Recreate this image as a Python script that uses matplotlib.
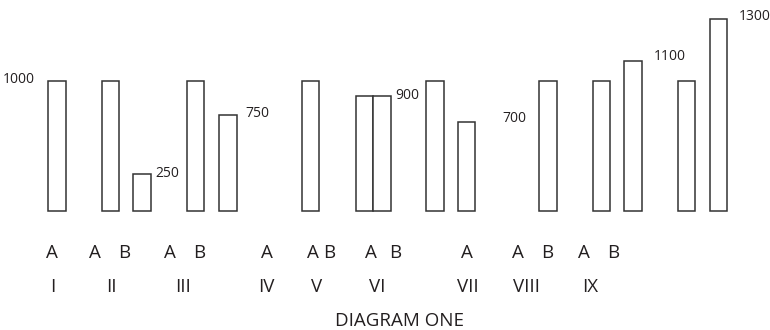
import matplotlib
matplotlib.use("Agg")
import matplotlib.pyplot as plt
from matplotlib import font_manager

# ---------------- data ----------------
groups = ["I", "II", "III", "IV", "V", "VI", "VII", "VIII", "IX"]
bar_letters = ["A", "A", "B", "A", "B", "A", "A", "B", "A", "B", "A", "A", "B", "A", "B"]
# bar heights as drawn in the diagram (schematic scale)
bar_heights = [1000, 1000, 282, 1000, 737, 1000, 885, 885, 1000, 685, 1000, 1000, 1151, 1000, 1476]
# value annotations: (bar index, text)
annot_bars = [0, 2, 4, 7, 9, 12, 14]
annot_text = ["1000", "250", "750", "900", "700", "1100", "1300"]
title = "DIAGRAM ONE"

# ---------------- layout ----------------
W, H = 770, 330
bar_x = [57, 110.3, 142, 195.7, 228, 310.2, 364.5, 382, 435, 466.7, 548, 601.3, 633, 686.7, 718.3]
bar_w = 17.4
letter_x = [52.3, 95, 124, 170, 199, 266.7, 312.5, 328.7, 370.7, 395, 466.7, 518.3, 546.7, 584, 612.7]
group_x = [52.3, 111.7, 183.3, 266.7, 316.7, 376.7, 468.3, 526, 590]
# annotation offsets in pixels (dx, dy) and alignment
annot_off = [(-13.3, -2.6, "right"), (4.3, -3, "left"), (8.3, -2.3, "left"),
             (5, -3.3, "left"), (26.7, 0, "left"), (11.6, 1, "left"), (11.5, -1, "left")]

names = {f.name for f in font_manager.fontManager.ttflist}
fam = "Open Sans" if "Open Sans" in names else "DejaVu Sans"
plt.rcParams["font.family"] = [fam, "DejaVu Sans"]
ink = "#231f20"

fig = plt.figure(figsize=(W / 100, H / 100), dpi=100)
ax = fig.add_axes([0, 0, 1, 1])
px_per_unit = 130.3 / 1000
base_px = 211  # baseline from top
ax.set_xlim(0, W)
ax.set_ylim(-(H - base_px) / px_per_unit, base_px / px_per_unit)
ax.axis("off")

ax.bar(bar_x, bar_heights, width=bar_w, facecolor="white", edgecolor="#333333", linewidth=1.1)

for i, t, (dx, dy, ha) in zip(annot_bars, annot_text, annot_off):
    xe = bar_x[i] - bar_w / 2 if ha == "right" else bar_x[i] + bar_w / 2
    ax.annotate(t, xy=(xe, bar_heights[i]), xytext=(dx, dy), textcoords="offset pixels",
                ha=ha, va="baseline", fontsize=10, color=ink)

def fy(py):
    return 1 - py / H

for x, t in zip(letter_x, bar_letters):
    fig.text(x / W, fy(257.7), t, ha="center", va="baseline", fontsize=13.5, color=ink)
for x, t in zip(group_x, groups):
    fig.text(x / W, fy(292.3), t, ha="center", va="baseline", fontsize=13.5, color=ink)
fig.text(400 / W, fy(325.5), title, ha="center", va="baseline", fontsize=13.5, color=ink)

fig.savefig("out.png", dpi=100, facecolor="white")
